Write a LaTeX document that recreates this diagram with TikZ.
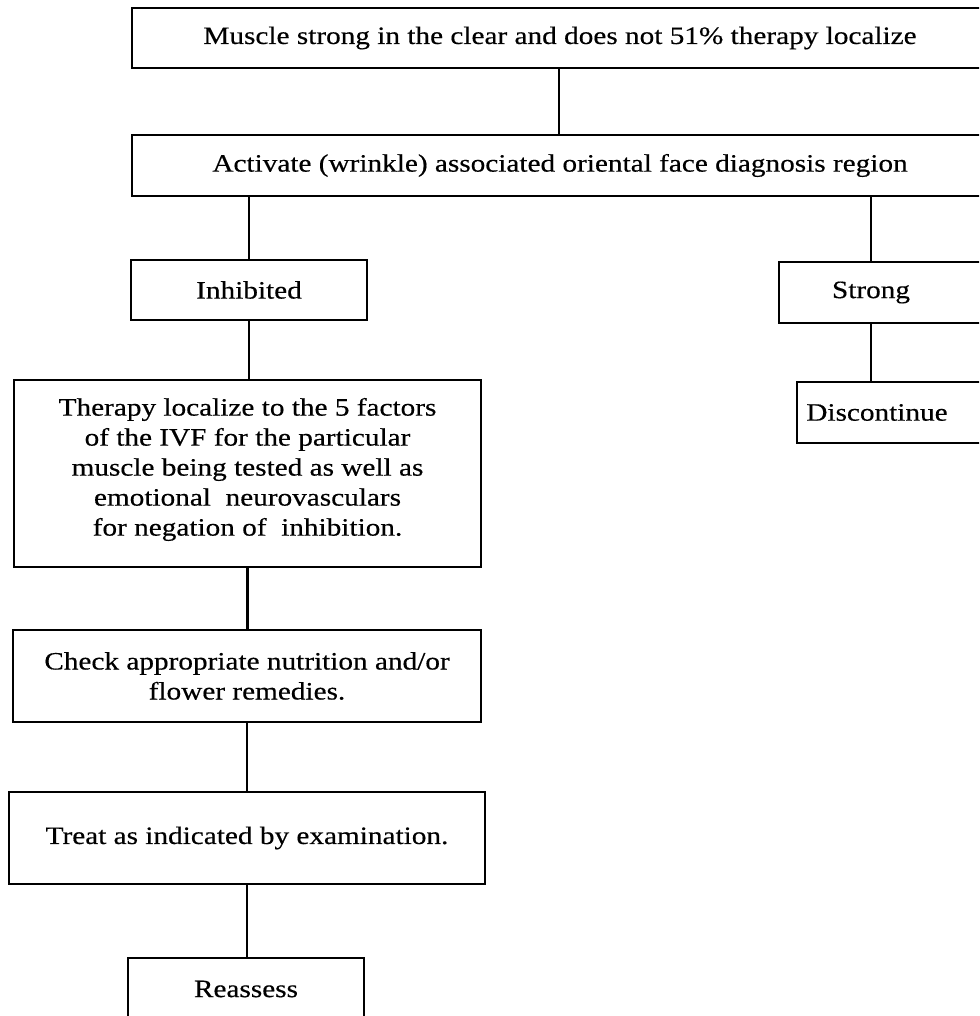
\documentclass[tikz,border=0pt]{standalone}
\usepackage{fontspec}
\setmainfont{Liberation Serif}[FakeStretch=1.17, FakeBold=0.4]
\begin{document}
\begin{tikzpicture}[x=1pt,y=-1pt,
  txt/.style={font=\fontsize{25}{30}\selectfont, align=center, inner sep=0pt},
  box/.style={txt, draw, line width=2.6pt},
  link/.style={line width=2.6pt}]
\useasboundingbox (0,0) rectangle (979,1016);
\clip (0,0) rectangle (979,1016);

% main column across the top
\node[box, minimum width=856, minimum height=60] (top) at (560,38)
  {Muscle strong in the clear and does not 51\% therapy localize};
\node[box, minimum width=856, minimum height=61] (act) at (560,165.5)
  {Activate (wrinkle) associated oriental face diagnosis region};

% left branch
\node[box, minimum width=236, minimum height=60] (inh) at (249,290) {Inhibited};
\node[box, minimum width=467, minimum height=187,
  label={[txt, yshift=4pt]center:{Therapy localize to the 5 factors\\
   of the IVF for the particular\\
   muscle being tested as well as\\
   emotional\ \ neurovasculars\\
   for negation of\ \ inhibition.}}] (thr) at (247.5,473.5) {};
\node[box, minimum width=468, minimum height=92] (chk) at (247,676)
  {Check appropriate nutrition and/or\\ flower remedies.};
\node[box, minimum width=476, minimum height=92] (trt) at (247,838)
  {Treat as indicated by examination.};
\node[box, minimum width=236, minimum height=62] (rea) at (246,989) {Reassess};

% right branch
\node[box, minimum width=240, minimum height=61,
  label={[txt, xshift=-28pt]center:Strong}] (str) at (899,292.5) {};
\node[box, minimum width=240, minimum height=61,
  label={[txt, xshift=-40pt]center:Discontinue}] (dis) at (917,412.5) {};

% connectors
\coordinate (c1) at (559,0);
\coordinate (c2) at (871,0);
\draw[link] (top.south -| c1) -- (act.north -| c1);
\draw[link] (act.south -| inh.north) -- (inh.north);
\draw[link] (act.south -| c2) -- (str.north -| c2);
\draw[link] (str.south -| c2) -- (dis.north -| c2);
\draw[link] (inh.south) -- (inh.south |- thr.north);
\draw[link] (thr.south) -- (thr.south |- chk.north);
\draw[link] (chk.south) -- (chk.south |- trt.north);
\draw[link] (trt.south) -- (trt.south |- rea.north);
\end{tikzpicture}
\end{document}
